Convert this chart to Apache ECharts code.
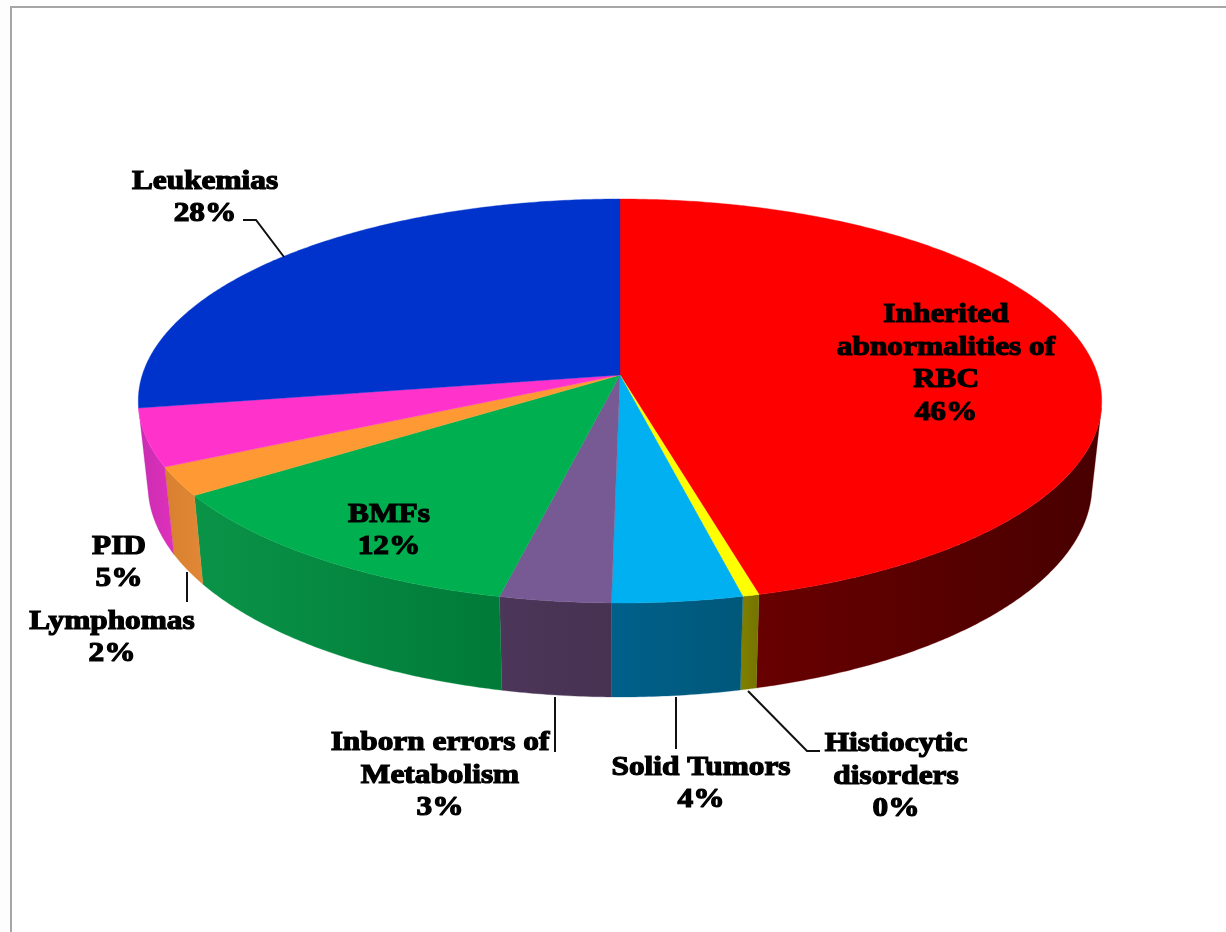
<!DOCTYPE html>
<html>
<head>
<meta charset="utf-8">
<title>Disease groups</title>
<style>html,body{margin:0;padding:0;background:#fff}#chart{width:1226px;height:932px}</style>
<script src="https://cdn.jsdelivr.net/npm/echarts@6/dist/echarts.min.js"></script>
</head>
<body>
<div id="chart"></div>
<script>
// Slices, clockwise from twelve o'clock
const categories = ['Inherited\nabnormalities of\nRBC', 'Histiocytic\ndisorders', 'Solid Tumors',
  'Inborn errors of\nMetabolism', 'BMFs', 'Lymphomas', 'PID', 'Leukemias'];
const shares = [45.9, 0.49, 3.86, 3.29, 11.94, 2.32, 4.6, 27.6];
const topColors = ['#ff0000', '#ffff00', '#00b0f0', '#775a94', '#00b050', '#ff9933', '#ff33cc', '#0033cc'];
const wallLeft = ['#680000', '#808000', '#00608a', '#4c3659', '#0a9448', '#d98030', '#c82db0', '#001f80'];
const wallRight = ['#480000', '#747400', '#00587a', '#483252', '#007a38', '#e08835', '#e030bc', '#001f80'];

// Label anchors (centre of the text block) and leader polylines, by slice
const labelAnchors = [[946, 364], [896, 777], [701, 784], [440, 776], [389, 531], [112, 638], [119, 563], [205, 198]];
const leaders = {
  1: [[748, 691], [807, 751], [820, 751]],
  2: [[676, 697], [676, 749]],
  3: [[555, 697], [555, 752]],
  5: [[187, 572], [187, 602]],
  7: [[243, 220], [256, 220], [284, 257]]
};

// Projection of the tilted disc onto the page
const CX = 620, CY = 375, AX = 477.7, AY = 198.65, PERSP = 0.1287;
const DROP = 82.6, SHRINK_X = 0.98, SHRINK_Y = 1.05, WALL_MARGIN = 2;

function rimPoint(deg) {
  const t = deg * Math.PI / 180;
  const u = Math.sin(t), v = -Math.cos(t);
  const w = 1 / (1 - PERSP * v);
  return [CX + AX * u * w, CY + AY * v * w];
}
function lowerPoint(p) {
  return [CX + (p[0] - CX) * SHRINK_X, CY + DROP + (p[1] - CY) * SHRINK_Y];
}
function arc(from, to) {
  const pts = [], n = Math.max(2, Math.ceil((to - from) / 0.5));
  for (let i = 0; i <= n; i++) pts.push(rimPoint(from + (to - from) * i / n));
  return pts;
}

const total = shares.reduce((a, b) => a + b, 0);
const edgeStart = Math.acos(-PERSP) * 180 / Math.PI + WALL_MARGIN;
const edgeEnd = 360 - edgeStart;

function renderSlice(params, api) {
  const i = params.dataIndex;
  let before = 0;
  for (let k = 0; k < i; k++) before += shares[k];
  const a0 = before / total * 360;
  const a1 = a0 + api.value(0) / total * 360;
  const children = [];

  // outer wall, only where the rim faces the viewer
  const w0 = Math.max(a0, edgeStart), w1 = Math.min(a1, edgeEnd);
  if (w1 > w0) {
    const upper = arc(w0, w1);
    const lower = upper.map(lowerPoint).reverse();
    children.push({
      type: 'polygon',
      shape: { points: upper.concat(lower) },
      style: {
        fill: new echarts.graphic.LinearGradient(0, 0, 1, 0, [
          { offset: 0, color: wallLeft[i] },
          { offset: 1, color: wallRight[i] }
        ]),
        stroke: wallLeft[i],
        lineWidth: 0.3
      },
      z2: 1
    });
  }

  // top face
  children.push({
    type: 'polygon',
    shape: { points: [[CX, CY]].concat(arc(a0, a1)) },
    style: { fill: topColors[i], stroke: topColors[i], lineWidth: 0.4 },
    z2: 2
  });

  // leader line
  if (leaders[i]) {
    children.push({
      type: 'polyline',
      shape: { points: leaders[i] },
      style: { fill: null, stroke: '#111', lineWidth: 2 },
      z2: 3
    });
  }

  // name and rounded share
  children.push({
    type: 'text',
    x: labelAnchors[i][0],
    y: labelAnchors[i][1],
    scaleX: 1.16,
    style: {
      text: api.value(1) + '\n' + Math.round(api.value(0) / total * 100) + '%',
      fill: '#000',
      stroke: '#000',
      lineWidth: 1.2,
      font: 'bold 27px "Liberation Serif", serif',
      lineHeight: 32.5,
      align: 'center',
      verticalAlign: 'middle'
    },
    z2: 4
  });
  return { type: 'group', children };
}

const chart = echarts.init(document.getElementById('chart'), null, { renderer: 'canvas' });
chart.setOption({
  animation: false,
  backgroundColor: '#fdfdfd',
  graphic: [{
    type: 'rect',
    shape: { x: 11, y: 7, width: 1400, height: 1100 },
    style: { fill: '#ffffff', stroke: '#a6a6a6', lineWidth: 2 },
    silent: true,
    z: -1
  }],
  series: [{
    type: 'custom',
    coordinateSystem: 'none',
    renderItem: renderSlice,
    dimensions: [{ name: 'share', type: 'number' }, { name: 'label', type: 'ordinal' }],
    data: shares.map((s, i) => [s, categories[i]])
  }]
});
</script>
</body>
</html>
